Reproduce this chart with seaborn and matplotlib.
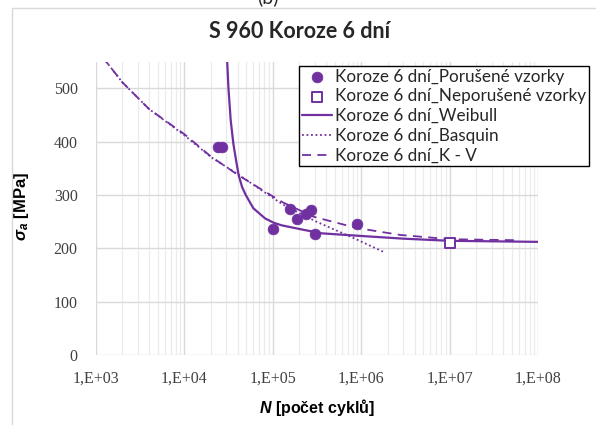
import numpy as np
import pandas as pd
import seaborn as sns
import matplotlib.pyplot as plt
import matplotlib.ticker as ticker
from matplotlib.patches import Rectangle

# ---- data ----
broken_N = [2.4e4, 2.7e4, 1.0e5, 1.57e5, 1.87e5, 2.38e5, 2.73e5, 3.03e5, 8.9e5]
broken_S = [390, 390, 237, 273, 255, 264, 272, 227, 246]

runout_N = [1.0e7]
runout_S = [210]

weibull_N = [3.02e4, 3.06e4, 3.16e4, 3.35e4, 3.59e4, 3.85e4, 4.12e4, 4.5e4, 4.95e4,
             6.04e4, 8.19e4, 1.02e5, 1.26e5, 2.32e5, 3.58e5, 1.01e6, 3.0e6, 1.0e7, 1.0e8]
weibull_S = [600, 549, 500, 440, 396, 365, 337, 315, 300,
             275, 256, 248, 243, 234, 228, 223, 218, 214, 212]

basquin_N = [1.2e3, 2.0e3, 4.0e3, 1.0e4, 2.0e4, 4.1e4, 7.0e4, 1.3e5, 3.1e5, 7.5e5, 1.8e6]
basquin_S = [558, 511, 461, 412, 371, 338, 312, 282, 250, 222, 193]

kv_N = [1.2e3, 2.0e3, 4.0e3, 1.0e4, 2.0e4, 4.0e4, 7.0e4, 1.3e5, 2.9e5, 8.9e5, 2.75e6, 1.0e7, 6.2e7]
kv_S = [558, 511, 461, 414, 372, 338, 313, 286, 259, 238, 225, 217, 215]

x_ticks = [1e3, 1e4, 1e5, 1e6, 1e7, 1e8]
x_tick_labels = ["1,E+03", "1,E+04", "1,E+05", "1,E+06", "1,E+07", "1,E+08"]
y_ticks = [0, 100, 200, 300, 400, 500]

labels = ["Koroze 6 dní_Porušené vzorky", "Koroze 6 dní_Neporušené vzorky",
          "Koroze 6 dní_Weibull", "Koroze 6 dní_Basquin", "Koroze 6 dní_K - V"]

purple = "#7030A0"
grid_major = "#D9D9D9"
grid_minor = "#EBEBEB"

sns.set_theme(style="white")
plt.rcParams["mathtext.fontset"] = "custom"
plt.rcParams["mathtext.bf"] = "Liberation Sans:bold"
plt.rcParams["mathtext.bfit"] = "Liberation Sans:italic:bold"
plt.rcParams["mathtext.it"] = "Liberation Sans:italic"
plt.rcParams["mathtext.rm"] = "Liberation Sans"

fig = plt.figure(figsize=(5.96, 4.25), dpi=100)
ax = fig.add_axes([95.7 / 596, 1 - 355 / 425, 442.6 / 596, 293.5 / 425])

# fitted curves
sns.lineplot(x=weibull_N, y=weibull_S, ax=ax, color=purple, linewidth=1.6,
             sort=False, label=labels[2])
sns.lineplot(x=basquin_N, y=basquin_S, ax=ax, color=purple, linewidth=1.3,
             linestyle=(0, (1, 1.5)), sort=False, label=labels[3])
sns.lineplot(x=kv_N, y=kv_S, ax=ax, color=purple, linewidth=1.3,
             linestyle=(0, (5, 3.5)), sort=False, label=labels[4])

# test points
sns.scatterplot(x=broken_N, y=broken_S, ax=ax, color=purple, s=60,
                edgecolor=purple, linewidth=0.5, label=labels[0], zorder=5)
sns.scatterplot(x=runout_N, y=runout_S, ax=ax, marker="s", s=55,
                facecolor="white", edgecolor=purple, linewidth=1.4,
                label=labels[1], zorder=5)

ax.set_xscale("log")
ax.set_xlim(1e3, 1e8)
ax.set_ylim(0, 550)
ax.set_xticks(x_ticks)
ax.set_xticklabels(x_tick_labels)
ax.set_yticks(y_ticks)
ax.xaxis.set_minor_locator(ticker.LogLocator(base=10, subs=np.arange(2, 10)))
ax.xaxis.set_minor_formatter(ticker.NullFormatter())
ax.grid(True, which="major", axis="both", color=grid_major, linewidth=1)
ax.grid(True, which="minor", axis="x", color=grid_minor, linewidth=0.9)
ax.set_axisbelow(True)
for side in ["top", "right", "left", "bottom"]:
    ax.spines[side].set_visible(False)
ax.tick_params(axis="both", which="both", length=0)
ax.tick_params(axis="y", pad=13)
ax.tick_params(axis="x", pad=11)
for lab in ax.get_xticklabels() + ax.get_yticklabels():
    lab.set_fontfamily("Liberation Serif")
    lab.set_fontsize(11.5)
    lab.set_color("#404040")

ax.set_xlabel(r"$\mathbfit{N}$ [počet cyklů]", fontsize=11.5, fontweight="bold",
              fontfamily="Liberation Sans", color="black")
ax.xaxis.set_label_coords(0.5, -0.18)
ax.xaxis.label.set_va("center")
ax.set_ylabel(r"$\boldsymbol{\sigma}_{\mathbfit{a}}$ [MPa]", fontsize=12, fontweight="bold",
              fontfamily="Liberation Sans", color="black")
ax.yaxis.set_label_coords(-0.167, 0.505)
ax.yaxis.label.set_va("center")

# legend reordered as in the reference
handles, labs = ax.get_legend_handles_labels()
order = [labs.index(l) for l in labels]
ax.get_legend().remove()
leg = fig.legend([handles[i] for i in order], [labs[i] for i in order],
                 loc="upper left", bbox_to_anchor=(299 / 596, 1 - 66 / 425),
                 frameon=True, fancybox=False, edgecolor="black", framealpha=1,
                 prop={"family": "Lato", "size": 12.3}, handlelength=1.8,
                 handletextpad=0.15, labelspacing=0.22, borderpad=0.15,
                 borderaxespad=0)
leg.get_frame().set_linewidth(1.0)

fig.text(300 / 596, 1 - 31 / 425, "S 960 Koroze 6 dní", ha="center", va="center",
         fontsize=15.5, fontweight="bold", fontfamily="Lato")
fig.text(268 / 596, 1 - 6 / 425, "(b)", ha="center", va="bottom",
         fontsize=14, fontfamily="Lato")

# chart area border
fig.add_artist(Rectangle((12 / 596, -0.1), 1.2, 1.1 - 8 / 425, transform=fig.transFigure,
                         fill=False, edgecolor=grid_major, linewidth=1))

fig.savefig("out.png", dpi=100)
